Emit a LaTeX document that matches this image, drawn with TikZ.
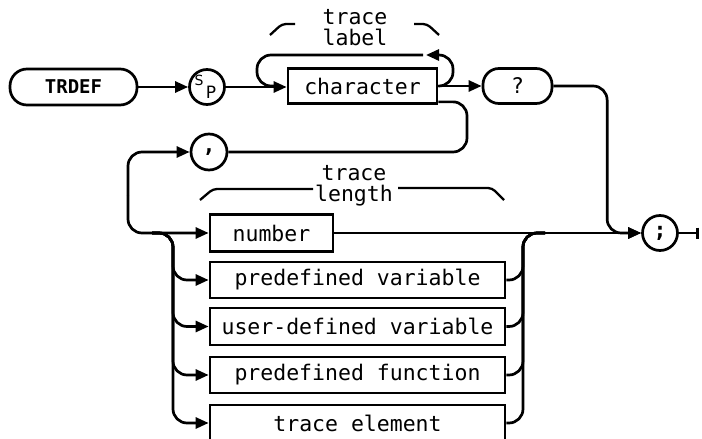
\documentclass[tikz,border=0pt]{standalone}
\usepackage{fontspec}
\newfontfamily\hpfont{DejaVu Sans Mono}
\newfontfamily\hpsans{DejaVu Sans}
\usetikzlibrary{arrows.meta,calc}
\begin{document}
\begin{tikzpicture}[x=1pt,y=-1pt,
  rail/.style={line width=2.7pt, line join=round},
  arr/.style={-{Triangle[length=13pt,width=11pt]}},
  rr/.style={rail, rounded corners=14pt},
  lbl/.style={font=\hpfont\fontsize{21.5}{21}\selectfont, inner sep=0pt},
  box/.style={draw, line width=2.7pt, minimum height=36pt, inner sep=0pt, lbl},
  rbox/.style={box, rounded corners=16pt},
  circ/.style={draw, circle, line width=2.7pt, minimum size=35pt, inner sep=0pt, lbl},
  brk/.style={line width=2.3pt, rounded corners=4pt},
]
\useasboundingbox (0,0) rectangle (702,439);

% nodes
\node[rbox, minimum width=127pt, rounded corners=17pt, font=\hpfont\bfseries\fontsize{19}{19}\selectfont] (trdef) at (73.5,87) {TRDEF};
\node[circ] (sp) at (207,87) {};
\node[inner sep=0pt, font=\hpsans\fontsize{14}{14}\selectfont] (sps) at (199,80) {S};
\node[inner sep=0pt, font=\hpsans\fontsize{17}{17}\selectfont] (spp) at (211,92) {P};
\node[box, minimum width=149pt, minimum height=35pt] (char) at (362.5,86) {character};
\node[rbox, minimum width=69pt, minimum height=35pt] (q) at (517.5,86) {?};
\node[circ, minimum size=36pt, font=\hpfont\bfseries\fontsize{21.5}{21}\selectfont] (comma) at (209,152) {,};
\node[circ, font=\hpfont\bfseries\fontsize{21.5}{21}\selectfont] (semi) at (660,233) {;};
\node[box, minimum width=123pt, minimum height=37pt] (num) at (271.5,233) {number};
\node[box, minimum width=295pt] (pv) at (357.5,280) {predefined variable};
\node[box, minimum width=295pt, minimum height=37pt] (udv) at (357.5,326.5) {user-defined variable};
\node[box, minimum width=295pt] (pf) at (357.5,375) {predefined function};
\node[box, minimum width=295pt] (te) at (357.5,423) {trace element};

\node[lbl, align=center] (tlab) at (355,27.5) {trace\\label};
\node[lbl, align=center] (tlen) at (354,185.5) {trace\\length};

% coordinates
\coordinate (lo2) at (453,55);
\coordinate (lo3) at (257,55);
\coordinate (cl) at ($(char.south east)+(0,-3)$);
\coordinate (cr) at (467,152);
\coordinate (lv) at (128,195);
\coordinate (ls) at (152,233);
\coordinate (lb) at (173,233);
\coordinate (rb) at (523,233);
\coordinate (re) at (545,233);
\coordinate (qv) at ($(semi.west)+(-34,0)$);
\coordinate (exit) at (699,233);

% connectors
\draw[rail,arr] (trdef.east) -- (trdef.east -| sp.west);
\draw[rail,arr] (sp.east) -- (sp.east -| char.west);
\draw[rr,arr] (char.east) -| (lo2) -- ($(lo2)+(-27,0)$);
\draw[rr] ($(lo2)+(-30,0)$) -- (lo3) |- ($(char.west)+(-8,0)$);
\draw[rail,arr] (char.east) -- (char.east -| q.west);
\draw[rr,arr] (q.east) -| (qv) -- (semi.west);
\draw[rail,-{Bar[width=11pt]}] (semi.east) -- (exit);
\draw[rr] (cl) -| (cr) -- (comma.east);
\draw[rr,arr] (lv) |- (comma.west);
\draw[rr,arr] (lv) |- (num.west);
\draw[rail,arr] (num.east) -- (semi.west);
\foreach \o in {pv,udv,pf,te}{
  \draw[rr,arr] (ls) -- (lb) |- (\o.west);
  \draw[rr] (\o.east) -| (rb) -- (re);
}

% brackets
\draw[brk] (270,35) -- (282,24) -- (295,24);
\draw[brk] (414,24) -- (427,24) -- (439,35);
\draw[brk] (200,200) -- (213,189) -- (313,189);
\draw[brk] (398,188) -- (492,188) -- (504,200);
\end{tikzpicture}
\end{document}
